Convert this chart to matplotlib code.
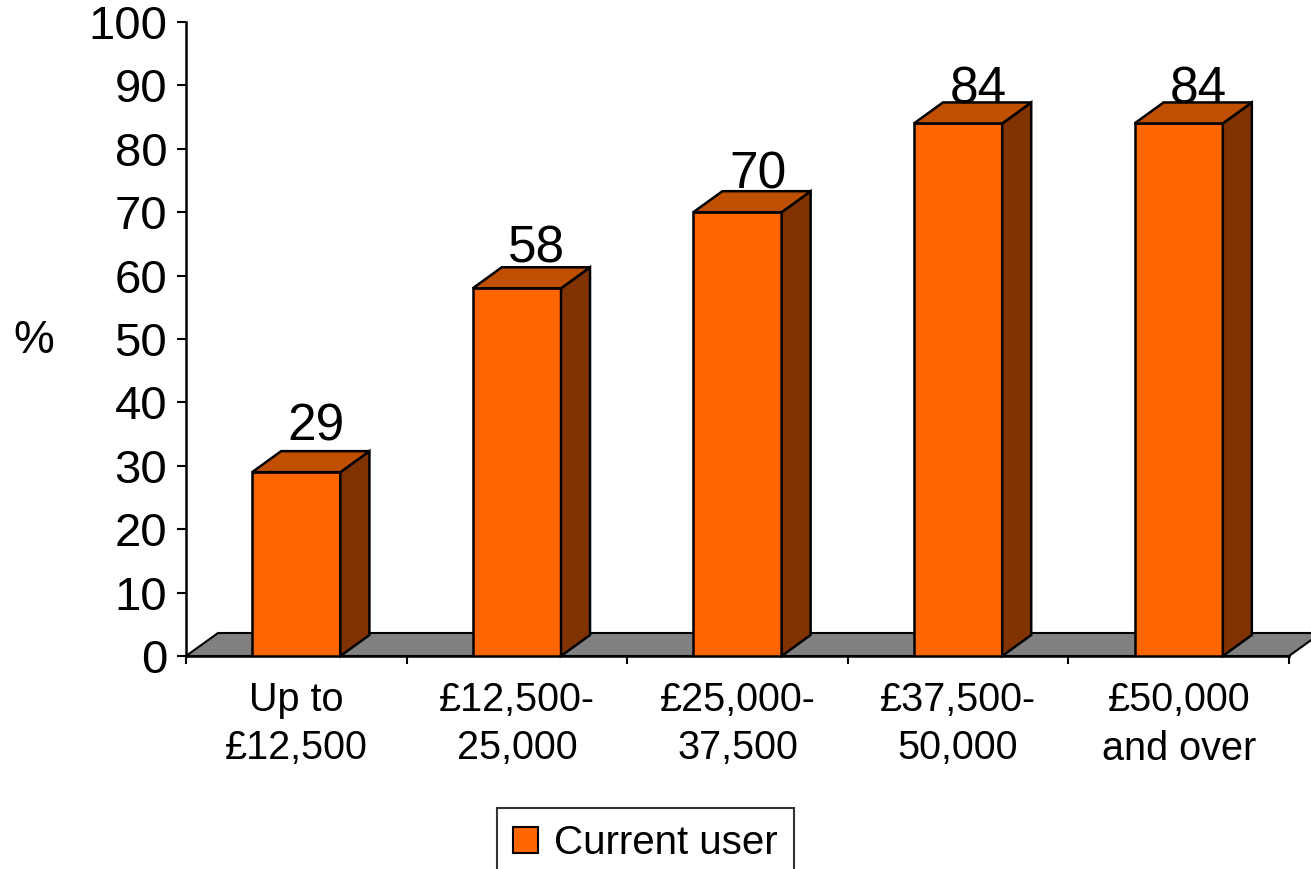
import matplotlib
matplotlib.use("Agg")
import matplotlib.pyplot as plt
from matplotlib.patches import Polygon, Patch

plt.rcParams['font.family'] = ['Liberation Sans', 'DejaVu Sans']

categories = ["Up to\n£12,500", "£12,500-\n25,000", "£25,000-\n37,500", "£37,500-\n50,000", "£50,000\nand over"]
values = [29, 58, 70, 84, 84]
series_name = "Current user"
yticks = [0, 10, 20, 30, 40, 50, 60, 70, 80, 90, 100]

W, H = 1311, 869
fig = plt.figure(figsize=(W / 100, H / 100), dpi=100)
ax = fig.add_axes([186 / W, 1 - 656 / H, (1289 - 186) / W, (656 - 22) / H])

n = len(categories)
ax.set_xlim(0, n)
ax.set_ylim(0, 100)

front_c = "#FF6600"
top_c = "#C05000"
side_c = "#803300"
floor_c = "#808080"

# depth offsets (in data units)
px_x = n / (1289 - 186)
px_y = 100 / (656 - 22)
bdx, bdy = 29 * px_x, 21 * px_y
fdx, fdy = 32 * px_x, 23 * px_y

# floor
floor = Polygon([(0, 0), (n, 0), (n + fdx, fdy), (fdx, fdy)], closed=True,
                facecolor=floor_c, edgecolor="black", linewidth=1.5, zorder=1, clip_on=False)
ax.add_patch(floor)

bw = 0.4
xs = [i + 0.5 for i in range(n)]
bars = ax.bar(xs, values, width=bw, color=front_c, edgecolor="black", linewidth=1.8, zorder=3)
for x, v in zip(xs, values):
    l, r = x - bw / 2, x + bw / 2
    top = Polygon([(l, v), (r, v), (r + bdx, v + bdy), (l + bdx, v + bdy)], closed=True,
                  facecolor=top_c, edgecolor="black", linewidth=1.8, zorder=3, clip_on=False)
    side = Polygon([(r, 0), (r + bdx, bdy), (r + bdx, v + bdy), (r, v)], closed=True,
                   facecolor=side_c, edgecolor="black", linewidth=1.8, zorder=3, clip_on=False)
    ax.add_patch(side)
    ax.add_patch(top)
    # label placement follows the chart's perspective projection
    ax.text(x + 20 * px_x, 6.04 + 0.966 * v, str(v), ha="center", va="baseline", fontsize=37, zorder=5)

for s in ["top", "right"]:
    ax.spines[s].set_visible(False)
ax.spines["left"].set_linewidth(1.8)
ax.spines["bottom"].set_linewidth(1.8)
ax.spines["left"].set_zorder(4)

ax.set_yticks(yticks)
ax.set_yticklabels([str(t) for t in yticks])
ax.tick_params(axis="y", direction="out", length=6.5, width=1.5, pad=7, labelsize=34)

ax.set_xticks(range(n + 1))
ax.set_xticklabels([])
ax.tick_params(axis="x", which="major", direction="out", length=6, width=1.5)
ax.set_xticks(xs, minor=True)
ax.set_xticklabels(categories, minor=True, fontsize=28.5, linespacing=1.35)
ax.tick_params(axis="x", which="minor", length=0, pad=18)

fig.text(34 / W, 1 - 341 / H, "%", ha="center", va="center", fontsize=33)

leg = fig.legend(handles=[Patch(facecolor=front_c, edgecolor="black", linewidth=1.5, label=series_name)],
                 loc="upper left", bbox_to_anchor=(497 / W, 1 - 808 / H), fontsize=29,
                 frameon=True, fancybox=False, shadow=False, borderpad=0.4,
                 handlelength=0.62, handleheight=0.6, handletextpad=0.4, borderaxespad=0)
leg.get_frame().set_edgecolor("black")
leg.get_frame().set_linewidth(1.5)

fig.savefig("out.png", dpi=100)
